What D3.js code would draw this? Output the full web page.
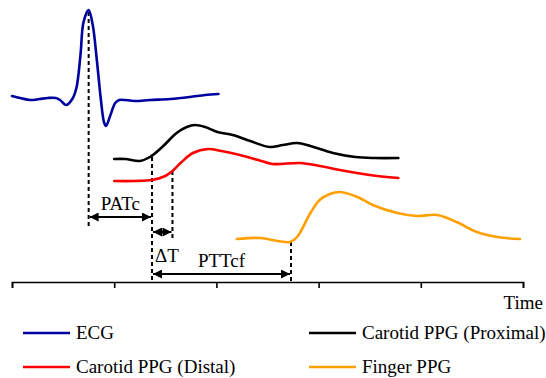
<!DOCTYPE html>
<html>
<head>
<meta charset="UTF-8"/>
<script src="https://d3js.org/d3.v7.min.js"></script>
<title>PTT timing</title>
<style>
body { margin: 0; background: #fff; }
svg text { font-family: "Liberation Serif", "Times New Roman", serif; font-size: 19px; fill: #000; }
.sig { fill: none; stroke-width: 2.6; stroke-linejoin: round; stroke-linecap: round; }
.guide { stroke: #000; stroke-width: 2; stroke-dasharray: 4 3; }
.span { stroke: #000; stroke-width: 2; }
.axis path, .axis line { stroke: #000; stroke-width: 1.6; }
</style>
</head>
<body>
<svg id="chart" width="546" height="378"></svg>
<script>
'use strict';

// time (arbitrary units) and amplitude above the time axis
var ecgT   = [0.00,0.08,0.18,0.27,0.35,0.43,0.47,0.53,0.59,0.63,0.67,0.70,0.75,0.79,0.83,0.87,0.90,0.92,0.96,1.01,1.05,1.20,1.35,1.55,1.74,1.89,2.02];
var ecgV   = [186,184,182,183,184,184,182,177,183,194,227,260,272,257,222,182,160,156,166,179,182,181,182,183,185,187,188];

var proxT  = [1.00,1.11,1.25,1.35,1.48,1.61,1.71,1.79,1.89,2.01,2.16,2.33,2.52,2.65,2.79,2.92,3.14,3.36,3.55,3.78];
var proxV  = [123,123,121,125,136,149,155,157,155,150,147,141,135,137,139,136,129,125,124,124];

var distT  = [1.00,1.20,1.37,1.50,1.57,1.66,1.77,1.92,2.05,2.23,2.41,2.55,2.82,3.01,3.21,3.50,3.78];
var distV  = [101,101,102,106,111,120,129,133,131,127,122,118,119,116,112,107,104];

var fingT  = [2.20,2.43,2.60,2.72,2.79,2.92,3.01,3.11,3.21,3.38,3.53,3.77,3.96,4.16,4.35,4.55,4.75,4.97];
var fingV  = [43,44,41,40,45,69,82,88,90,85,77,69,66,67,60,50,45,43];

// event markers: time, top and bottom of the dashed guide
var markT   = [0.75, 1.37, 1.57, 2.73];
var markTop = [270, 125, 111, 40];
var markBot = [55, 0, 42, 0];

// intervals: label, start, end, level
var spanLabels = ['PATc', '\u0394T', 'PTTcf'];
var spanStart  = [0.75, 1.37, 1.37];
var spanEnd    = [1.37, 1.57, 2.73];
var spanLevel  = [65, 50, 8];

var tickVals = [0, 1, 2, 3, 4, 5];

var legendLabels = ['ECG', 'Carotid PPG (Proximal)', 'Carotid PPG (Distal)', 'Finger PPG'];
var colors = ['#0000a0', '#000000', '#ff0000', '#ffa000'];

var svg = d3.select('#chart');

var x = d3.scaleLinear().domain([0, 5]).range([12, 523]);
var y = d3.scaleLinear().domain([0, 280]).range([282, 2]);

var defs = svg.append('defs');
defs.append('marker')
	.attr('id', 'head')
	.attr('viewBox', '0 0 10 10')
	.attr('refX', 10).attr('refY', 5)
	.attr('markerWidth', 4.5).attr('markerHeight', 4.5)
	.attr('orient', 'auto-start-reverse')
	.append('path').attr('d', 'M0,0L10,5L0,10Z').attr('fill', '#000');

var line = d3.line()
	.x(function(d){ return x(d[0]); })
	.y(function(d){ return y(d[1]); })
	.curve(d3.curveCatmullRom.alpha(0.5));

var series = [
	d3.zip(ecgT, ecgV),
	d3.zip(proxT, proxV),
	d3.zip(distT, distV),
	d3.zip(fingT, fingV)
];

// axis
var axis = d3.axisBottom(x).tickValues(tickVals).tickSize(6).tickFormat('');
svg.append('g')
	.attr('class', 'axis')
	.attr('transform', 'translate(0,' + y(0) + ')')
	.call(axis);

svg.append('text')
	.attr('x', 543).attr('y', 309)
	.attr('text-anchor', 'end')
	.text('Time');

// dashed guides
svg.selectAll('.guide')
	.data(markT)
	.enter()
	.append('line')
	.attr('class', 'guide')
	.attr('x1', function(d){ return x(d); })
	.attr('x2', function(d){ return x(d); })
	.attr('y1', function(d, i){ return y(markTop[i]); })
	.attr('y2', function(d, i){ return y(markBot[i]); });

// signals
svg.selectAll('.sig')
	.data(series)
	.enter()
	.append('path')
	.attr('class', 'sig')
	.attr('stroke', function(d, i){ return colors[i]; })
	.attr('d', line);

// interval arrows
svg.selectAll('.span')
	.data(spanLabels)
	.enter()
	.append('line')
	.attr('class', 'span')
	.attr('x1', function(d, i){ return x(spanStart[i]) + 1; })
	.attr('x2', function(d, i){ return x(spanEnd[i]) - 1; })
	.attr('y1', function(d, i){ return y(spanLevel[i]); })
	.attr('y2', function(d, i){ return y(spanLevel[i]); })
	.attr('marker-start', 'url(#head)')
	.attr('marker-end', 'url(#head)');

var labelDy = [-7, 30, -7];
var labelAnchor = ['middle', 'start', 'middle'];
svg.selectAll('.spanlabel')
	.data(spanLabels)
	.enter()
	.append('text')
	.attr('class', 'spanlabel')
	.attr('text-anchor', function(d, i){ return labelAnchor[i]; })
	.attr('x', function(d, i){
		return labelAnchor[i] == 'start' ? x(spanStart[i]) + 3 : (x(spanStart[i]) + x(spanEnd[i])) / 2;
	})
	.attr('y', function(d, i){ return y(spanLevel[i]) + labelDy[i]; })
	.text(function(d){ return d; });

// legend
var legend = svg.selectAll('.leg')
	.data(legendLabels)
	.enter()
	.append('g')
	.attr('class', 'leg')
	.attr('transform', function(d, i){
		return 'translate(' + (i % 2 ? 309 : 23) + ',' + (333 + Math.floor(i / 2) * 34) + ')';
	});

legend.append('line')
	.attr('x1', 0).attr('x2', 47)
	.attr('stroke', function(d, i){ return colors[i]; })
	.attr('stroke-width', 2.6);

legend.append('text')
	.attr('x', 53).attr('y', 6)
	.text(function(d){ return d; });
</script>
</body>
</html>
